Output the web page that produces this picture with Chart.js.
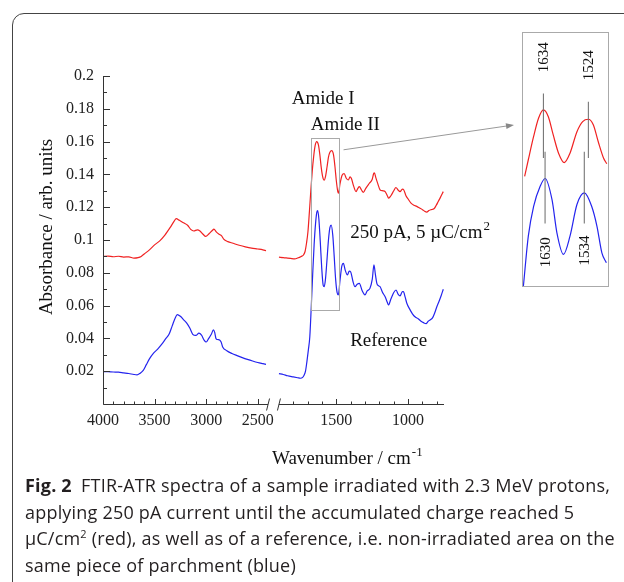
<!DOCTYPE html>
<html>
<head>
<meta charset="utf-8">
<script src="https://cdn.jsdelivr.net/npm/chart.js@4.4.1/dist/chart.umd.min.js"></script>
<style>
  html, body { margin: 0; padding: 0; background: #fff; }
  body { width: 624px; height: 582px; position: relative; overflow: hidden; }
  #frame { position: absolute; left: 12px; top: 13px; width: 660px; height: 640px;
           border: 1.5px solid #444; border-radius: 12px; box-sizing: border-box; }
  #main { position: absolute; left: 0; top: 0; }
  #insetBox { position: absolute; left: 522px; top: 32px; width: 87px; height: 255px;
              border: 1px solid #aaa; box-sizing: border-box; }
  #inset { display: block; }
  #caption { position: absolute; left: 25px; top: 472px; font-family: "Open Sans", Lato, sans-serif;
             font-size: 18px; letter-spacing: 0.2px; line-height: 26.7px; color: #231f20; white-space: nowrap; }
  #caption sup { font-size: 11px; line-height: 0; vertical-align: 7px; }
</style>
</head>
<body>
<div id="frame"></div>
<canvas id="main" width="624" height="582"></canvas>
<div id="insetBox"><canvas id="inset" width="85" height="253"></canvas></div>
<div id="caption"><b>Fig. 2</b>&ensp;FTIR-ATR spectra of a sample irradiated with 2.3 MeV protons,<br>applying 250 pA current until the accumulated charge reached 5<br>µC/cm<sup>2</sup> (red), as well as of a reference, i.e. non-irradiated area on the<br>same piece of parchment (blue)</div>

<script>
// 250 pA, 5 uC/cm2 (red), high wavenumber part
const redHighW = [4000,3950,3900,3850,3800,3750,3700,3660,3630,3600,3550,3500,3450,3400,3350,3310,3290,3260,3220,3180,3150,3120,3085,3060,3030,3005,2970,2940,2925,2900,2875,2850,2830,2790,2740,2680,2620,2560,2500,2450,2420];
const redHighA = [0.0900,0.0902,0.0898,0.0901,0.0896,0.0897,0.0890,0.0893,0.0900,0.0915,0.0940,0.0970,0.0995,0.1030,0.1075,0.1115,0.1130,0.1120,0.1105,0.1090,0.1065,0.1055,0.1062,0.1055,0.1035,0.1022,0.1040,0.1058,0.1066,0.1048,0.1035,0.1025,0.1005,0.0990,0.0980,0.0968,0.0958,0.0950,0.0945,0.0940,0.0935];

// red, fingerprint part
const redLowW = [1900,1870,1840,1820,1790,1770,1745,1728,1718,1708,1698,1688,1678,1668,1658,1648,1637,1625,1615,1605,1595,1585,1575,1565,1555,1545,1532,1520,1510,1500,1490,1485,1475,1460,1446,1430,1416,1405,1395,1380,1363,1350,1340,1325,1312,1295,1270,1250,1240,1235,1225,1212,1195,1175,1160,1145,1135,1120,1100,1085,1070,1056,1040,1030,1015,1000,980,960,940,920,900,885,870,855,840,820,805,790,775,755];
const redLowA = [0.0895,0.0893,0.0890,0.0888,0.0885,0.0890,0.0900,0.0910,0.0930,0.0980,0.1050,0.1170,0.1300,0.1420,0.1510,0.1575,0.1600,0.1580,0.1520,0.1440,0.1385,0.1365,0.1390,0.1445,0.1505,0.1535,0.1545,0.1520,0.1450,0.1360,0.1295,0.1285,0.1340,0.1395,0.1405,0.1375,0.1366,0.1385,0.1375,0.1330,0.1295,0.1315,0.1325,0.1305,0.1290,0.1315,0.1346,0.1370,0.1405,0.1410,0.1380,0.1345,0.1305,0.1300,0.1295,0.1270,0.1255,0.1270,0.1300,0.1320,0.1305,0.1295,0.1310,0.1305,0.1270,0.1250,0.1225,0.1212,0.1205,0.1195,0.1185,0.1175,0.1170,0.1180,0.1185,0.1190,0.1210,0.1235,0.1260,0.1295];

// reference (blue), high wavenumber part
const blueHighW = [4000,3950,3900,3850,3800,3750,3700,3670,3640,3610,3580,3550,3510,3470,3430,3390,3360,3330,3300,3280,3250,3220,3190,3160,3130,3100,3070,3045,3020,3000,2975,2950,2930,2918,2905,2890,2870,2855,2840,2800,2750,2700,2650,2600,2550,2500,2450,2420];
const blueHighA = [0.0198,0.0197,0.0195,0.0194,0.0190,0.0186,0.0180,0.0178,0.0188,0.0205,0.0240,0.0275,0.0310,0.0335,0.0365,0.0400,0.0425,0.0475,0.0525,0.0545,0.0535,0.0515,0.0495,0.0465,0.0425,0.0418,0.0432,0.0420,0.0390,0.0378,0.0400,0.0425,0.0452,0.0438,0.0400,0.0393,0.0390,0.0378,0.0348,0.0325,0.0308,0.0295,0.0283,0.0272,0.0262,0.0253,0.0246,0.0242];

// blue, fingerprint part
const blueLowW = [1900,1870,1840,1800,1770,1750,1735,1725,1715,1705,1695,1685,1675,1665,1655,1645,1636,1630,1622,1612,1602,1592,1585,1576,1566,1555,1545,1536,1525,1515,1505,1495,1486,1475,1462,1451,1438,1423,1410,1400,1385,1370,1355,1340,1320,1301,1285,1266,1250,1238,1228,1218,1205,1195,1178,1160,1145,1137,1120,1100,1084,1070,1056,1040,1033,1020,1009,990,970,950,930,910,893,875,860,847,830,815,800,785,770,755];
const blueLowA = [0.0185,0.0180,0.0172,0.0165,0.0160,0.0157,0.0162,0.0175,0.0200,0.0260,0.0330,0.0410,0.0590,0.0790,0.0970,0.1100,0.1170,0.1179,0.1130,0.0990,0.0830,0.0725,0.0715,0.0760,0.0870,0.1000,0.1075,0.1091,0.1030,0.0900,0.0760,0.0680,0.0665,0.0750,0.0840,0.0858,0.0815,0.0787,0.0810,0.0805,0.0750,0.0715,0.0730,0.0736,0.0690,0.0665,0.0690,0.0705,0.0760,0.0848,0.0790,0.0736,0.0720,0.0715,0.0680,0.0654,0.0620,0.0604,0.0640,0.0680,0.0695,0.0670,0.0659,0.0685,0.0685,0.0650,0.0614,0.0580,0.0550,0.0530,0.0520,0.0505,0.0496,0.0490,0.0505,0.0512,0.0525,0.0555,0.0593,0.0625,0.0660,0.0700];

// amide I / II close-up (separately scaled spectra)
const zoomRedW = [1680,1671,1658,1646,1634,1622,1610,1597,1583,1569,1552,1538,1524,1512,1500,1487,1479];
const zoomRedA = [0.433,0.499,0.591,0.663,0.696,0.669,0.597,0.525,0.488,0.525,0.610,0.650,0.659,0.637,0.571,0.506,0.483];
const zoomBlueW = [1683,1671,1658,1642,1630,1613,1601,1585,1569,1552,1534,1516,1503,1491,1480];
const zoomBlueA = [0.000,0.197,0.315,0.394,0.425,0.341,0.210,0.125,0.197,0.322,0.368,0.315,0.236,0.131,0.092];
const peaksRed = [1634, 1524];
const peaksBlue = [1630, 1534];

// axis setup
const highRange = [4000, 2400];
const lowRange = [1900, 750];
const amideWindow = [1680, 1480];
const xTickLabels = [4000, 3500, 3000, 2500, 1500, 1000];
const yTickStep = 0.02;

const RED = '#f02222';
const BLUE = '#2424ee';
const SERIF = '"Liberation Serif", "Times New Roman", serif';

// broken axis: both ranges get the same width, with a small gap between them
const SPAN = 100, GAP = 6.6, U_MAX = 2 * SPAN + GAP;
function toU(w) {
  if (w >= highRange[1]) return (highRange[0] - w) / (highRange[0] - highRange[1]) * SPAN;
  return SPAN + GAP + (lowRange[0] - w) / (lowRange[0] - lowRange[1]) * SPAN;
}

function pts(ws, as, map) {
  return ws.map((w, i) => ({ x: map ? map(w) : w, y: as[i] }));
}

function lineSet(ws, as, color, map) {
  return {
    data: pts(ws, as, map),
    borderColor: color,
    borderWidth: 1.2,
    pointRadius: 0,
    cubicInterpolationMode: 'monotone',
    fill: false
  };
}

function supText(ctx, base, sup, x, y, size) {
  ctx.font = size + 'px ' + SERIF;
  ctx.fillText(base, x, y);
  const bw = ctx.measureText(base).width;
  ctx.font = Math.round(size * 0.68) + 'px ' + SERIF;
  ctx.fillText(sup, x + bw + 1, y - size * 0.42);
}

// axes with inward ticks, axis break, labels and the amide window
const mainDecor = {
  id: 'mainDecor',
  afterDraw(chart) {
    const { ctx, chartArea: a, scales: { x, y } } = chart;
    const px = w => x.getPixelForValue(toU(w));
    const py = v => y.getPixelForValue(v);
    const seg = (x1, y1, x2, y2) => { ctx.beginPath(); ctx.moveTo(x1, y1); ctx.lineTo(x2, y2); ctx.stroke(); };
    const L = Math.round(a.left) + 0.5, B = Math.round(a.bottom) + 0.5;

    ctx.save();
    ctx.strokeStyle = '#333';
    ctx.lineWidth = 1;

    // y axis
    seg(L, Math.round(a.top), L, B);
    for (let k = 0; k <= 20; k++) {
      const yy = Math.round(py(k * 0.01)) + 0.5;
      seg(L, yy, L + (k % 2 ? 3.5 : 6.5), yy);
    }

    // x axis, two pieces
    const xBreak1 = px(highRange[1]), xBreak2 = px(lowRange[0]);
    seg(L, B, xBreak1, B);
    seg(xBreak2, B, Math.round(a.right), B);
    for (let w = highRange[0] - 100; w > highRange[1]; w -= 100) {
      const xx = Math.round(px(w)) + 0.5;
      seg(xx, B, xx, B - (w % 500 ? 3 : 5.5));
    }
    for (let w = lowRange[0] - 100; w >= lowRange[1]; w -= 100) {
      const xx = Math.round(px(w)) + 0.5;
      seg(xx, B, xx, B - (w % 500 ? 3 : 5.5));
    }
    seg(xBreak1 - 1.5, B + 6, xBreak1 + 1.5, B - 6);
    seg(xBreak2 - 1.5, B + 6, xBreak2 + 1.5, B - 6);

    // amide window and pointer to the close-up
    ctx.strokeStyle = '#aaa';
    const bx1 = Math.round(px(amideWindow[0])) + 0.5, bx2 = Math.round(px(amideWindow[1])) + 0.5;
    const by1 = Math.round(py(0.162)) + 0.5, by2 = Math.round(py(0.0573)) + 0.5;
    ctx.strokeRect(bx1, by1, bx2 - bx1, by2 - by1);

    const box = document.getElementById('insetBox');
    const sx = px(1450), sy = py(0.155);
    const ex = box.offsetLeft - 8, ey = 125;
    ctx.strokeStyle = '#999';
    seg(sx, sy, ex - 6, ey + 0.8);
    const ang = Math.atan2(ey - sy, ex - sx);
    ctx.fillStyle = '#888';
    ctx.beginPath();
    ctx.moveTo(ex, ey);
    ctx.lineTo(ex - 8 * Math.cos(ang) + 3 * Math.sin(ang), ey - 8 * Math.sin(ang) - 3 * Math.cos(ang));
    ctx.lineTo(ex - 8 * Math.cos(ang) - 3 * Math.sin(ang), ey - 8 * Math.sin(ang) + 3 * Math.cos(ang));
    ctx.closePath();
    ctx.fill();

    // text
    ctx.fillStyle = '#111';
    ctx.textBaseline = 'alphabetic';
    ctx.textAlign = 'left';
    ctx.font = '19px ' + SERIF;
    ctx.fillText('Amide I', px(1811), py(0.1868) + 6);
    ctx.fillText('Amide II', px(1678), py(0.1705) + 6);
    supText(ctx, '250 pA, 5 \u00b5C/cm', '2', px(1404), py(0.1051) + 6, 19);
    ctx.font = '19px ' + SERIF;
    ctx.fillText('Reference', px(1404), py(0.039) + 6);

    supText(ctx, 'Wavenumber / cm', '-1', 272, 464, 19);

    ctx.save();
    ctx.translate(52, 227);
    ctx.rotate(-Math.PI / 2);
    ctx.textAlign = 'center';
    ctx.font = '19px ' + SERIF;
    ctx.fillText('Absorbance / arb. units', 0, 0);
    ctx.restore();

    ctx.restore();
  }
};

new Chart(document.getElementById('main'), {
  type: 'line',
  data: {
    datasets: [
      lineSet(redHighW, redHighA, RED, toU),
      lineSet(redLowW, redLowA, RED, toU),
      lineSet(blueHighW, blueHighA, BLUE, toU),
      lineSet(blueLowW, blueLowA, BLUE, toU)
    ]
  },
  options: {
    responsive: false,
    animation: false,
    layout: { padding: { left: 0, top: 76, right: 180, bottom: 138 } },
    plugins: { legend: { display: false }, tooltip: { enabled: false } },
    scales: {
      x: {
        type: 'linear',
        min: 0,
        max: U_MAX,
        grid: { display: false, drawTicks: false },
        border: { display: false },
        afterBuildTicks: s => { s.ticks = xTickLabels.map(w => ({ value: toU(w) })); },
        afterFit: s => { s.height = 40; },
        ticks: {
          autoSkip: false,
          maxRotation: 0,
          padding: 7,
          color: '#222',
          font: { family: SERIF, size: 16 },
          callback: (v, i) => String(xTickLabels[i])
        }
      },
      y: {
        min: 0,
        max: 0.2,
        grid: { display: false, drawTicks: false },
        border: { display: false },
        afterFit: s => { s.width = 103; },
        ticks: {
          stepSize: yTickStep,
          padding: 9,
          color: '#222',
          font: { family: SERIF, size: 16 },
          callback: v => (v === 0 ? '' : String(+v.toFixed(2)))
        }
      }
    }
  },
  plugins: [mainDecor]
});

// close-up of amide I and II with marked band positions
const insetDecor = {
  id: 'insetDecor',
  afterDraw(chart) {
    const { ctx, scales: { x, y } } = chart;
    ctx.save();
    ctx.strokeStyle = '#777';
    ctx.lineWidth = 1.1;
    const mark = (w, lo, hi, labelY) => {
      const xx = x.getPixelForValue(w);
      ctx.beginPath();
      ctx.moveTo(xx, y.getPixelForValue(lo));
      ctx.lineTo(xx, y.getPixelForValue(hi));
      ctx.stroke();
      ctx.save();
      ctx.translate(xx + 1, y.getPixelForValue(labelY));
      ctx.rotate(-Math.PI / 2);
      ctx.fillStyle = '#111';
      ctx.font = '15px ' + SERIF;
      ctx.textAlign = 'center';
      ctx.textBaseline = 'middle';
      ctx.fillText(String(w), 0, 0);
      ctx.restore();
    };
    mark(peaksRed[0], 0.506, 0.761, 0.904);
    mark(peaksRed[1], 0.506, 0.728, 0.873);
    mark(peaksBlue[0], 0.247, 0.531, 0.133);
    mark(peaksBlue[1], 0.247, 0.531, 0.140);
    ctx.restore();
  }
};

new Chart(document.getElementById('inset'), {
  type: 'line',
  data: {
    datasets: [
      lineSet(zoomRedW, zoomRedA, RED),
      lineSet(zoomBlueW, zoomBlueA, BLUE)
    ]
  },
  options: {
    responsive: false,
    animation: false,
    layout: { padding: 0 },
    plugins: { legend: { display: false }, tooltip: { enabled: false } },
    scales: {
      x: { type: 'linear', min: 1476, max: 1684, reverse: true, display: false },
      y: { min: 0, max: 1, display: false }
    }
  },
  plugins: [insetDecor]
});
</script>
</body>
</html>
